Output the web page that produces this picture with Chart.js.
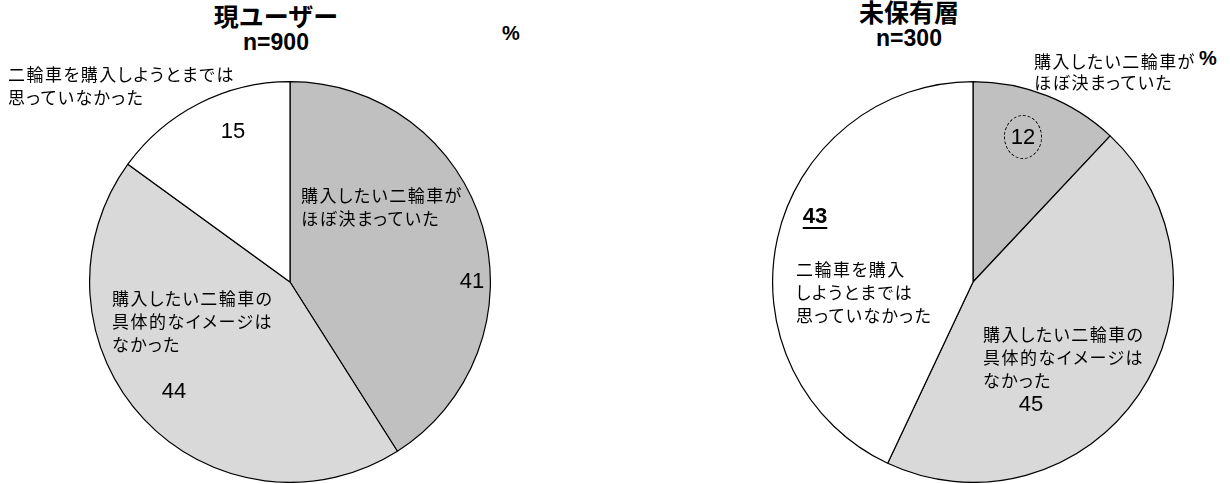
<!DOCTYPE html>
<html lang="ja">
<head>
<meta charset="utf-8">
<script src="https://cdn.jsdelivr.net/npm/chart.js@4/dist/chart.umd.min.js"></script>
<style>
  html, body { margin: 0; padding: 0; background: #fff; }
  body { width: 1230px; height: 484px; position: relative; overflow: hidden;
         font-family: "Liberation Sans", "Noto Sans CJK JP", sans-serif; color: #000; }
  .box { position: absolute; }
  .title { position: absolute; text-align: center; line-height: 1; }
  .t1 { font-family: "Noto Sans CJK JP", sans-serif; font-size: 25px; font-weight: 700; height: 25px; }
  .t2 { font-family: "Liberation Sans", sans-serif; font-size: 23px; font-weight: bold; }
  .lbl { position: absolute; font-family: "Noto Sans CJK JP", sans-serif; font-size: 17px;
         font-feature-settings: "palt" 1; letter-spacing: 1.5px; line-height: 23px; white-space: nowrap; }
  .num { position: absolute; font-family: "Liberation Sans", sans-serif; font-size: 22px;
         line-height: 1; transform: translate(-50%, -50%); white-space: nowrap; }
  .pct { position: absolute; font-family: "Liberation Sans", sans-serif; font-weight: bold; font-size: 20px; }
  .circ { position: absolute; border: 1.2px dashed #000; border-radius: 50%; }
</style>
</head>
<body>
<div class="box" style="left:89px; top:81px; width:402px; height:402px;"><canvas id="c1" width="402" height="402"></canvas></div>
<div class="box" style="left:772px; top:81px; width:402px; height:402px;"><canvas id="c2" width="402" height="402"></canvas></div>
<div id="overlay"></div>
<script>
// ---- data ----
const categories = [
  '購入したい二輪車がほぼ決まっていた',
  '購入したい二輪車の具体的なイメージはなかった',
  '二輪車を購入しようとまでは思っていなかった'
];
const currentUserValues = [41, 44, 15];
const nonOwnerValues = [12, 45, 43];
const chartTitles = ['現ユーザー', '未保有層'];
const sampleSizes = ['n=900', 'n=300'];
const unitLabel = '%';
const sliceColors = ['#C0C0C0', '#D9D9D9', '#FFFFFF'];

function makePie(id, values) {
  return new Chart(document.getElementById(id), {
    type: 'pie',
    data: {
      labels: categories,
      datasets: [{
        data: values,
        backgroundColor: sliceColors,
        borderColor: '#000000',
        borderWidth: 1.2,
        borderAlign: 'center'
      }]
    },
    options: {
      responsive: false,
      animation: false,
      events: [],
      layout: { padding: 0 },
      plugins: { legend: { display: false }, tooltip: { enabled: false }, title: { display: false } }
    }
  });
}
makePie('c1', currentUserValues);
makePie('c2', nonOwnerValues);

// ---- text overlay ----
const ov = document.getElementById('overlay');
function add(cls, html, style) {
  const d = document.createElement('div');
  d.className = cls;
  d.innerHTML = html;
  Object.assign(d.style, style);
  ov.appendChild(d);
  return d;
}
function lines(arr) { return arr.join('<br>'); }

// titles
add('title', '<div class="t1">' + chartTitles[0] + '</div><div class="t2" style="margin-top:3px">' + sampleSizes[0] + '</div>',
    { left: '176px', top: '3px', width: '200px' });
add('title', '<div class="t1">' + chartTitles[1] + '</div><div class="t2" style="margin-top:3px">' + sampleSizes[1] + '</div>',
    { left: '809px', top: '-1px', width: '200px' });
add('pct', unitLabel, { left: '502px', top: '22px' });
add('pct', unitLabel, { left: '1199px', top: '47px' });

// left pie labels
add('lbl', lines(['二輪車を購入しようとまでは', '思っていなかった']), { left: '8px', top: '62px' });
add('num', String(currentUserValues[2]), { left: '233px', top: '131px' });
add('lbl', lines(['購入したい二輪車が', 'ほぼ決まっていた']), { left: '301px', top: '183px' });
add('num', String(currentUserValues[0]), { left: '472px', top: '281px' });
add('lbl', lines(['購入したい二輪車の', '具体的なイメージは', 'なかった']), { left: '112px', top: '286px' });
add('num', String(currentUserValues[1]), { left: '174px', top: '391px' });

// right pie labels
add('lbl', lines(['購入したい二輪車が', 'ほぼ決まっていた']), { left: '1034px', top: '50px', lineHeight: '21px' });
add('circ', '', { left: '1004px', top: '115px', width: '36px', height: '42px' });
add('num', String(nonOwnerValues[0]), { left: '1023px', top: '137px' });
add('num', '<b style="text-decoration:underline; text-underline-offset:4px; text-decoration-thickness:2px">' + nonOwnerValues[2] + '</b>', { left: '815px', top: '216px' });
add('lbl', lines(['二輪車を購入', 'しようとまでは', '思っていなかった']), { left: '796px', top: '257px' });
add('lbl', lines(['購入したい二輪車の', '具体的なイメージは', 'なかった']), { left: '983px', top: '322px' });
add('num', String(nonOwnerValues[1]), { left: '1031px', top: '404px' });
</script>
</body>
</html>
